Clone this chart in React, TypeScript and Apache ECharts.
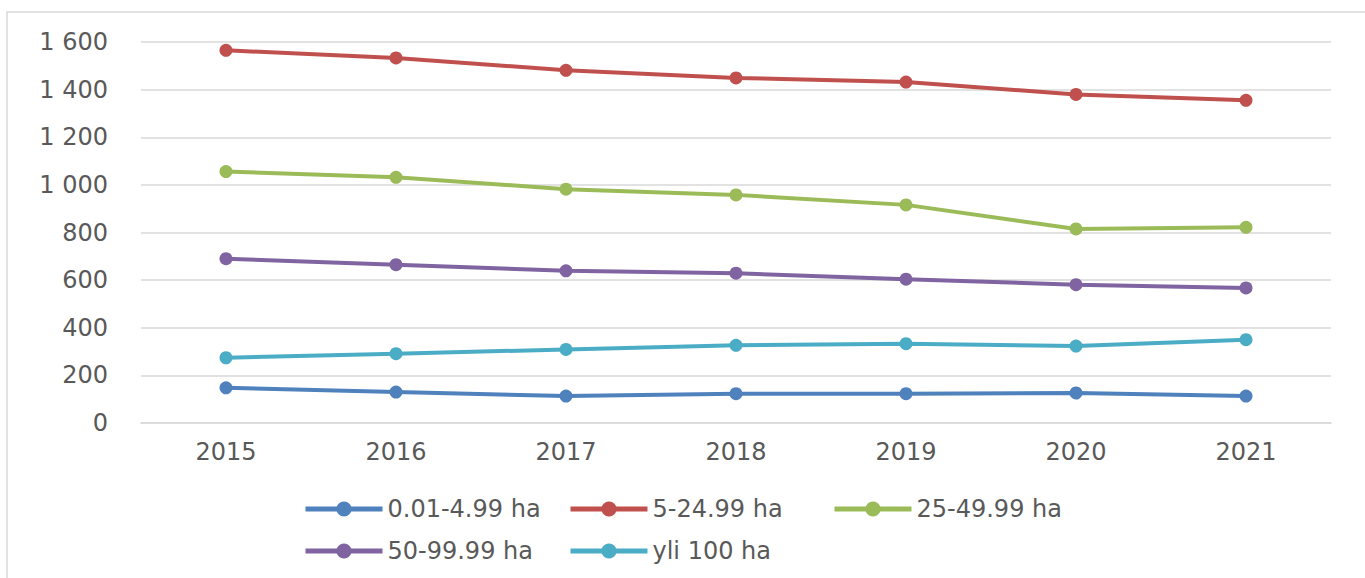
import React, { useEffect, useRef } from "react";
import * as echarts from "echarts";

const years = ["2015", "2016", "2017", "2018", "2019", "2020", "2021"];
const seriesNames = ["0.01-4.99 ha", "5-24.99 ha", "25-49.99 ha", "50-99.99 ha", "yli 100 ha"];
const colors = ["#4F81BD", "#C0504D", "#9BBB59", "#8064A2", "#4BACC6"];
const s1 = [148, 130, 113, 123, 123, 126, 113];
const s2 = [1565, 1533, 1481, 1449, 1432, 1380, 1355];
const s3 = [1056, 1032, 982, 958, 916, 815, 822];
const s4 = [690, 665, 639, 629, 604, 581, 567];
const s5 = [274, 291, 309, 326, 333, 323, 350];
const allData = [s1, s2, s3, s4, s5];
const yMin = 0;
const yMax = 1600;
const yStep = 200;

const legendPos = [
  { left: 303, top: 497 },
  { left: 568, top: 497 },
  { left: 832, top: 497 },
  { left: 303, top: 539 },
  { left: 568, top: 539 },
];

function fmt(v: number): string {
  if (v >= 1000) {
    return Math.floor(v / 1000) + " " + String(v % 1000).padStart(3, "0");
  }
  return String(v);
}

export default function App() {
  const ref = useRef<HTMLDivElement>(null);
  useEffect(() => {
    if (!ref.current) return;
    const chart = echarts.init(ref.current, null, { renderer: "svg" });
    const font = "'DejaVu Sans', Verdana, sans-serif";
    chart.setOption({
      animation: false,
      backgroundColor: "#ffffff",
      textStyle: { fontFamily: font },
      graphic: [
        {
          type: "rect",
          shape: { x: 7, y: 12, width: 1400, height: 620 },
          style: { fill: "none", stroke: "#d9d9d9", lineWidth: 1.5 },
          silent: true,
        },
      ],
      grid: { left: 141, right: 34, top: 42, bottom: 155 },
      legend: seriesNames.map((n, i) => ({
        data: [n],
        left: legendPos[i].left,
        top: legendPos[i].top,
        itemWidth: 77,
        itemHeight: 19,
        itemGap: 0,
        padding: 0,
        lineStyle: { width: 5 },
        textStyle: { fontSize: 24, color: "#595959", fontFamily: font },
        selectedMode: false,
      })),
      xAxis: {
        type: "category",
        data: years,
        boundaryGap: true,
        axisLine: { show: true, lineStyle: { color: "#d9d9d9", width: 1.5 } },
        axisTick: { show: false },
        axisLabel: { fontSize: 24, color: "#595959", margin: 17, fontFamily: font },
      },
      yAxis: {
        type: "value",
        min: yMin,
        max: yMax,
        interval: yStep,
        axisLine: { show: false },
        axisTick: { show: false },
        splitLine: { lineStyle: { color: "#d9d9d9", width: 1.5 } },
        axisLabel: { fontSize: 24, color: "#595959", margin: 33, fontFamily: font, formatter: fmt },
      },
      series: seriesNames.map((n, i) => ({
        name: n,
        type: "line",
        data: allData[i],
        symbol: "circle",
        symbolSize: 13,
        color: colors[i],
        lineStyle: { width: 4, color: colors[i] },
        itemStyle: { color: colors[i] },
      })),
    });
    return () => chart.dispose();
  }, []);
  return (
    <div
      ref={ref}
      style={{ position: "fixed", left: 0, top: 0, width: 1365, height: 578 }}
    />
  );
}
